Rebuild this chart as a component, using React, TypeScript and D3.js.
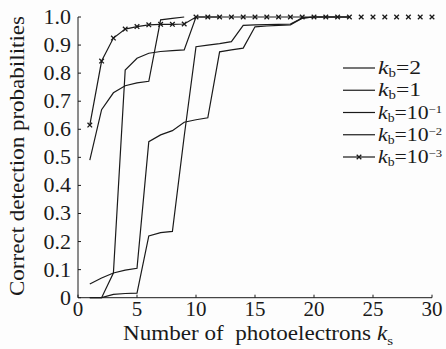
import React from "react";
import * as d3 from "d3";

// values, k_s = 1, 2, 3, ...
const kbE3 = [0.615, 0.843, 0.925, 0.957, 0.966, 0.972, 0.974, 0.974, 0.975, 1.0,
  1.0, 1.0, 1.0, 1.0, 1.0, 1.0, 1.0, 1.0, 1.0, 1.0, 1.0, 1.0, 1.0, 1.0, 1.0, 1.0, 1.0, 1.0, 1.0, 1.0];
const kbE2 = [0.49, 0.67, 0.73, 0.755, 0.765, 0.771, 0.99, 0.995, 1.0];
const kbE1 = [0, 0, 0.088, 0.811, 0.853, 0.871, 0.877, 0.88, 0.883, 1.0, 1.0, 1.0];
const kb1 = [0.049, 0.07, 0.088, 0.098, 0.105, 0.556, 0.58, 0.595, 0.625, 0.634, 0.641, 0.876,
  0.883, 0.889, 0.965, 0.968, 0.97, 0.972, 0.996, 1.0, 1.0, 1.0, 1.0];
const kb2 = [0, 0, 0.012, 0.015, 0.016, 0.22, 0.232, 0.236, 0.575, 0.894, 0.9, 0.905,
  0.912, 0.97, 0.972, 0.973, 0.974, 0.975, 0.996, 1.0, 1.0, 1.0, 1.0];

// the marked curve's line stops where the other curves stop
const markedLineEnd = 23;

const xTicks = [0, 5, 10, 15, 20, 25, 30];
const yTicks = [0, 0.1, 0.2, 0.3, 0.4, 0.5, 0.6, 0.7, 0.8, 0.9, 1.0];
const legendLabels = [
  { val: "2", sup: "" },
  { val: "1", sup: "" },
  { val: "10", sup: "\u22121" },
  { val: "10", sup: "\u22122" },
  { val: "10", sup: "\u22123" },
];

const font = "'Liberation Serif', 'Times New Roman', serif";
const ink = "#1a1a1a";

export default function App() {
  const x = d3.scaleLinear().domain([0, 30]).range([78, 432]);
  const y = d3.scaleLinear().domain([0, 1]).range([297.7, 17]);

  const line = d3.line<number>()
    .x((_, i) => x(i + 1))
    .y(d => y(d));

  const plain = [kb2, kb1, kbE1, kbE2];

  const legendY = d3.scaleLinear().domain([0, 4]).range([68, 157]);

  const cross = (cx: number, cy: number, key: string) => (
    <path key={key}
      d={`M${cx - 2.3},${cy - 2.3}L${cx + 2.3},${cy + 2.3}M${cx - 2.3},${cy + 2.3}L${cx + 2.3},${cy - 2.3}`}
      stroke={ink} strokeWidth={1.3} fill="none" />
  );

  return (
    <svg width={446} height={349} style={{ position: "absolute", left: 0, top: 0, background: "#fdfdfd" }}
      fontFamily={font}>
      {/* axes */}
      <line x1={x(0)} x2={x(30)} y1={y(0)} y2={y(0)} stroke={ink} strokeWidth={1} />
      <line x1={x(0)} x2={x(0)} y1={y(0)} y2={y(1)} stroke={ink} strokeWidth={1} />
      {xTicks.map(t => (
        <g key={"xt" + t}>
          <line x1={x(t)} x2={x(t)} y1={y(0)} y2={y(0) - 3} stroke={ink} />
          <text x={x(t)} y={316} textAnchor="middle" fontSize={21} fill={ink}>{t}</text>
        </g>
      ))}
      {yTicks.map(t => (
        <g key={"yt" + t}>
          <line x1={x(0)} x2={x(0) + 3} y1={y(t)} y2={y(t)} stroke={ink} />
          <text x={71} y={y(t) + 7} textAnchor="end" fontSize={22} fill={ink}>
            {t === 0 ? "0" : t.toFixed(1)}
          </text>
        </g>
      ))}
      <text transform="translate(24,156) rotate(-90)" textAnchor="middle" fontSize={21} fill={ink}
        textLength={280} lengthAdjust="spacingAndGlyphs">
        Correct detection probabilities
      </text>
      <text x={123} y={340} fontSize={20} fill={ink} textLength={270} lengthAdjust="spacingAndGlyphs">
        Number of{"\u00a0\u00a0"}photoelectrons{" "}
        <tspan fontStyle="italic">k</tspan>
        <tspan fontSize={13} dy={5}>s</tspan>
      </text>

      {/* curves */}
      {plain.map((s, i) => (
        <path key={"c" + i} d={line(s) ?? ""} fill="none" stroke={ink} strokeWidth={1.2} />
      ))}
      <path d={line(kbE3.slice(0, markedLineEnd)) ?? ""} fill="none" stroke={ink} strokeWidth={1.2} />
      {kbE3.map((v, i) => cross(x(i + 1), y(v), "m" + i))}

      {/* legend */}
      {legendLabels.map((l, i) => {
        const ly = legendY(i);
        return (
          <g key={"lg" + i}>
            <line x1={343} x2={375} y1={ly} y2={ly} stroke={ink} strokeWidth={1.2} />
            {i === 4 && cross(359, ly, "lm")}
            <text x={378} y={ly + 6} fontSize={19} fill={ink} textLength={i > 1 ? 64 : 43}
              lengthAdjust="spacingAndGlyphs">
              <tspan fontStyle="italic">k</tspan>
              <tspan fontSize={12} dy={3}>b</tspan>
              <tspan dy={-3}>={l.val}</tspan>
              {l.sup && <tspan fontSize={11} dy={-6}>{l.sup}</tspan>}
            </text>
          </g>
        );
      })}
    </svg>
  );
}
